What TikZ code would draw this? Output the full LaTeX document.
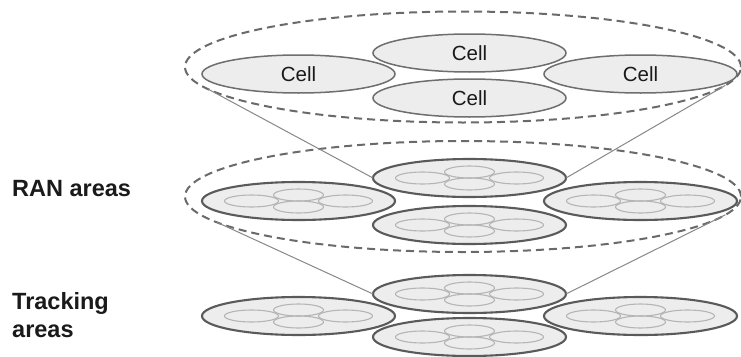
\documentclass[tikz,border=0pt]{standalone}
\usepackage{fontspec}
\setmainfont{Liberation Sans}
\usetikzlibrary{shapes.geometric}
\definecolor{dashgray}{HTML}{6A6A6A}
\definecolor{cellgray}{HTML}{6E6E6E}
\definecolor{areagray}{HTML}{5A5A5A}
\definecolor{cellfill}{HTML}{EDEDED}
\definecolor{minigray}{HTML}{B5B5B5}
\definecolor{linkgray}{HTML}{888888}
\definecolor{textblack}{HTML}{1A1A1A}
\tikzset{
  dashring/.style={ellipse, draw=dashgray, dash pattern=on 8pt off 5pt, line width=2pt,
    minimum width=556pt, minimum height=111pt, inner sep=0pt, outer sep=0pt},
  cellbox/.style={ellipse, draw=cellgray, fill=cellfill, line width=1.5pt,
    minimum width=193pt, minimum height=38pt, inner sep=0pt, outer sep=0pt,
    text=textblack, font=\fontsize{20.5}{24}\selectfont},
  areabox/.style={ellipse, draw=areagray, fill=cellfill, line width=2.1pt,
    minimum width=193pt, minimum height=38pt, inner sep=0pt, outer sep=0pt},
  sidemini/.style={ellipse, draw=minigray, line width=1.1pt,
    minimum width=54pt, minimum height=12pt, inner sep=0pt, outer sep=0pt},
  midmini/.style={ellipse, draw=minigray, line width=1.1pt,
    minimum width=50pt, minimum height=12pt, inner sep=0pt, outer sep=0pt},
  link/.style={draw=linkgray, line width=1pt},
  lab/.style={font=\bfseries\fontsize{23.5}{28}\selectfont, text=textblack,
    anchor=base west, inner sep=0pt},
  area/.pic={
    \node[areabox] (-o) at (0,0) {};
    \node[sidemini] (-l) at (-47,0) {};
    \node[sidemini] (-r) at (47,0) {};
    \node[midmini] (-t) at (0,-6) {};
    \node[midmini] (-b) at (0,6) {};
  }
}
\begin{document}
\begin{tikzpicture}[x=1pt,y=-1pt]
\fill[white] (0,0) rectangle (741,356);
\useasboundingbox (0,0) rectangle (741,356);

% dashed groupings
\node[dashring] (tdash) at (463,67) {};
\node[dashring] (mdash) at (463,196.5) {};

% top layer: cells
\node[cellbox] (cL) at (298.5,74) {Cell};
\node[cellbox] (cR) at (640.5,74) {Cell};
\node[cellbox] (cT) at (469.5,53) {Cell};
\node[cellbox] (cB) at (469.5,98) {Cell};

% middle layer: RAN areas
\pic (mL) at (298.5,201) {area};
\pic (mR) at (640.5,201) {area};
\pic (mT) at (469.5,178) {area};
\pic (mB) at (469.5,225) {area};

% bottom layer: tracking areas
\pic (bL) at (298.5,316) {area};
\pic (bR) at (640.5,316) {area};
\pic (bT) at (469.5,294) {area};
\pic (bB) at (469.5,337) {area};

% connectors
\draw[link] (tdash.185.5) -- (mT-o.west);
\draw[link] (tdash.-4.6) -- (mT-o.east);
\draw[link] (mdash.186.3) -- (bT-o.west);
\draw[link] (mdash.-4.5) -- (bT-o.east);

% labels
\node[lab] (ran) at (12,196) {RAN areas};
\node[lab] (tr1) at (12,309) {Tracking};
\node[lab] (tr2) at (12,337) {areas};
\end{tikzpicture}
\end{document}
